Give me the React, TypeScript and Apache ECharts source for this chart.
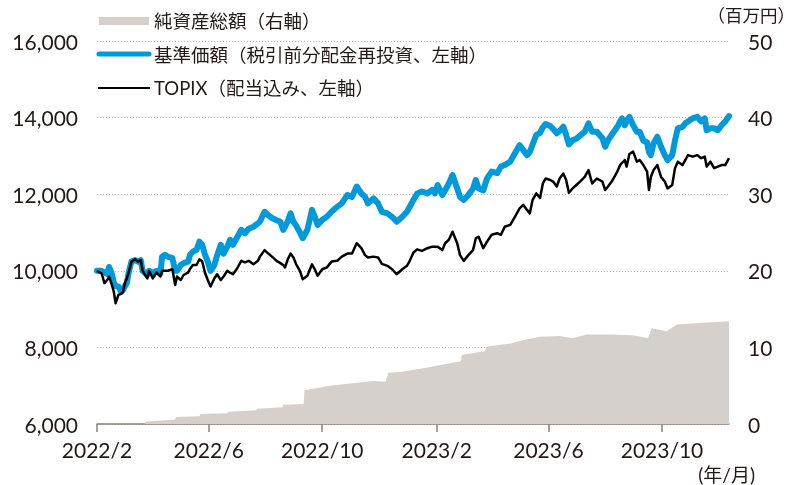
import React, { useEffect, useRef } from "react";
import * as echarts from "echarts";

// 日付（基準価額・TOPIX共通）
const lineDates = [
  "2022-02-01","2022-02-06","2022-02-09","2022-02-12","2022-02-14","2022-02-17","2022-02-19","2022-02-21","2022-02-24","2022-02-27",
  "2022-03-01","2022-03-03","2022-03-05","2022-03-07","2022-03-10","2022-03-14","2022-03-17","2022-03-20","2022-03-22","2022-03-27",
  "2022-03-29","2022-04-02","2022-04-06","2022-04-10","2022-04-12","2022-04-15","2022-04-18","2022-04-23","2022-04-26","2022-04-28",
  "2022-05-02","2022-05-05","2022-05-10","2022-05-12","2022-05-15","2022-05-19","2022-05-22","2022-05-25","2022-05-28","2022-05-31",
  "2022-06-03","2022-06-07","2022-06-10","2022-06-14","2022-06-17","2022-06-21","2022-06-24","2022-06-27","2022-07-01","2022-07-06",
  "2022-07-10","2022-07-14","2022-07-19","2022-07-24","2022-07-26","2022-07-31","2022-08-04","2022-08-08","2022-08-13","2022-08-17",
  "2022-08-20","2022-08-22","2022-08-25","2022-08-28","2022-08-31","2022-09-03","2022-09-07","2022-09-10","2022-09-15","2022-09-20",
  "2022-09-23","2022-09-26","2022-10-01","2022-10-06","2022-10-11","2022-10-17","2022-10-22","2022-10-28","2022-11-02","2022-11-07",
  "2022-11-12","2022-11-16","2022-11-19","2022-11-25","2022-11-30","2022-12-04","2022-12-10","2022-12-15","2022-12-20","2022-12-26",
  "2022-12-31","2023-01-03","2023-01-07","2023-01-11","2023-01-16","2023-01-22","2023-01-27","2023-01-30","2023-02-02","2023-02-07",
  "2023-02-10","2023-02-14","2023-02-18","2023-02-23","2023-02-26","2023-03-02","2023-03-07","2023-03-12","2023-03-15","2023-03-18",
  "2023-03-23","2023-03-27","2023-04-01","2023-04-07","2023-04-11","2023-04-15","2023-04-21","2023-04-26","2023-05-01","2023-05-05",
  "2023-05-09","2023-05-12","2023-05-15","2023-05-19","2023-05-23","2023-05-26","2023-05-29","2023-06-03","2023-06-06","2023-06-10",
  "2023-06-13","2023-06-17","2023-06-20","2023-06-23","2023-06-27","2023-07-01","2023-07-05","2023-07-10","2023-07-14","2023-07-18",
  "2023-07-23","2023-07-29","2023-08-01","2023-08-04","2023-08-08","2023-08-14","2023-08-17","2023-08-19","2023-08-22","2023-08-24",
  "2023-08-27","2023-08-31","2023-09-04","2023-09-07","2023-09-11","2023-09-15","2023-09-17","2023-09-19","2023-09-22","2023-09-26",
  "2023-09-30","2023-10-04","2023-10-07","2023-10-12","2023-10-15","2023-10-18","2023-10-23","2023-10-26","2023-10-29","2023-11-03",
  "2023-11-08","2023-11-12","2023-11-16","2023-11-18","2023-11-22","2023-11-26","2023-11-30","2023-12-04","2023-12-08","2023-12-12"
];

// 基準価額（税引前分配金再投資）
const navValues = [
  10000,10000,9960,9920,10100,9920,9700,9600,9590,9450,
  9500,9600,9680,9950,10240,10280,10240,10280,10000,9890,
  10000,9940,10000,9920,10370,10420,10370,10330,10000,10000,
  10150,10200,10240,10420,10500,10550,10760,10680,10420,10240,
  10000,10150,10400,10680,10450,10630,10810,10680,10850,11070,
  10980,11100,11150,11240,11280,11540,11450,11380,11320,11280,
  11070,11150,11300,11500,11280,11180,11000,10850,11070,11590,
  11410,11200,11330,11410,11540,11670,11760,11980,11930,12200,
  12020,11930,11760,11890,11760,11540,11500,11410,11280,11410,
  11540,11670,11850,12020,12070,12020,12110,12020,12240,11980,
  12100,12280,12500,12150,11930,11850,11980,12150,12370,12150,
  12100,12410,12590,12550,12720,12760,12850,13070,13280,13150,
  13020,13100,13300,13550,13600,13750,13830,13780,13700,13590,
  13650,13760,13550,13300,13410,13450,13530,13630,13850,13630,
  13630,13460,13240,13410,13550,13760,13900,13980,13800,13900,
  14020,13800,13630,13630,13400,13350,13100,13020,13330,13500,
  13240,13020,12890,13020,13410,13720,13760,13850,13900,13980,
  14020,13900,13980,13670,13720,13720,13670,13800,13900,14040
];

// TOPIX（配当込み）
const topixValues = [
  10000,9930,9680,9760,9850,9630,9460,9150,9370,9400,
  9450,9680,9800,9950,10240,10300,10240,10280,10000,9800,
  10000,9800,9960,9850,10000,10000,10000,10040,9630,9850,
  9760,9890,9960,10050,10150,10150,10300,10250,9950,9760,
  9590,9800,9910,9760,9850,10000,9950,9910,10040,10260,
  10220,10260,10170,10260,10370,10540,10450,10370,10260,10200,
  10150,10090,10300,10450,10350,10170,10000,9780,9870,10170,
  10040,9870,10040,10090,10240,10260,10370,10450,10450,10720,
  10590,10410,10350,10370,10350,10180,10130,10040,9910,10040,
  10130,10260,10480,10560,10520,10590,10630,10630,10630,10540,
  10720,10810,11020,10720,10410,10260,10410,10540,10850,10890,
  10590,10760,10940,10980,10940,11150,11200,11410,11630,11720,
  11590,11500,11850,12020,11900,12280,12410,12370,12330,12200,
  12410,12540,12370,12040,12150,12240,12330,12450,12630,12280,
  12410,12330,12110,12200,12330,12590,12760,12820,12890,12720,
  13050,13110,12850,12890,12760,12590,12110,12450,12630,12760,
  12450,12330,12150,12240,12680,12850,12760,12890,13020,12980,
  13020,12940,12980,12720,12850,12680,12720,12760,12760,12940
];

// 純資産総額（百万円）
const assetDates = [
  "2022-02-01","2022-03-24","2022-03-25","2022-04-26","2022-04-27","2022-05-22","2022-05-23","2022-06-21","2022-06-22","2022-07-22",
  "2022-07-23","2022-08-19","2022-08-20","2022-09-11","2022-09-12","2022-10-09","2022-10-31","2022-11-25","2022-12-08","2022-12-11",
  "2022-12-24","2023-01-14","2023-01-28","2023-02-18","2023-02-27","2023-02-28","2023-03-19","2023-03-25","2023-03-26","2023-04-21",
  "2023-05-07","2023-05-23","2023-06-13","2023-06-27","2023-07-12","2023-08-09","2023-08-31","2023-09-16","2023-09-20","2023-10-06",
  "2023-10-17","2023-11-11","2023-12-12"
];
const assetValues = [
  0,0,0.3,0.6,0.9,1.0,1.3,1.4,1.6,1.8,
  2.0,2.2,2.5,2.6,4.4,5.0,5.3,5.6,5.5,6.7,
  6.8,7.2,7.5,8.0,8.2,9.0,9.4,9.5,10.1,10.5,
  11.0,11.4,11.5,11.2,11.7,11.7,11.6,11.2,12.5,12.1,
  13.0,13.2,13.4
];

const tickDates = ["2022-02-01", "2022-06-01", "2022-10-01", "2023-02-01", "2023-06-01", "2023-10-01"];
const leftTicks = { min: 6000, max: 16000, interval: 2000 };
const rightTicks = { min: 0, max: 50, interval: 10 };

const legendNames = ["純資産総額（右軸）", "基準価額（税引前分配金再投資、左軸）", "TOPIX（配当込み、左軸）"];
const rightUnit = "（百万円）";
const xUnit = "(年/月)";

const ts = (s: string) => {
  const [y, m, d] = s.split("-").map(Number);
  return Date.UTC(y, m - 1, d);
};

const FONT = "Lato, 'Noto Sans CJK JP', sans-serif";
const TEXT = "#231815";
const BLUE = "#0099d9";
const GRAY = "#d5d0cb";

export default function App() {
  const ref = useRef<HTMLDivElement>(null);
  useEffect(() => {
    if (!ref.current) return;
    const chart = echarts.init(ref.current, undefined, { renderer: "svg" });
    const navData = lineDates.map((d, i) => [ts(d), navValues[i]]);
    const topixData = lineDates.map((d, i) => [ts(d), topixValues[i]]);
    const assetData = assetDates.map((d, i) => [ts(d), assetValues[i]]);
    const tickValues = tickDates.map(ts);

    chart.setOption({
      animation: false,
      textStyle: { fontFamily: FONT },
      grid: { left: 97, right: 68, top: 41, bottom: 61, containLabel: false, outerBoundsMode: "none" },
      xAxis: {
        type: "value",
        min: ts(lineDates[0]),
        max: ts(lineDates[lineDates.length - 1]),
        axisLine: { show: true, lineStyle: { color: "#8a7e78", width: 1.5 } },
        axisTick: { show: true, length: 8, lineStyle: { color: "#8a7e78", width: 1.5 }, customValues: tickValues },
        axisLabel: {
          customValues: tickValues,
          fontSize: 21,
          color: TEXT,
          fontFamily: FONT,
          margin: 15,
          formatter: (v: number) => {
            const d = new Date(v);
            return `${d.getUTCFullYear()}/${d.getUTCMonth() + 1}`;
          },
        },
        splitLine: { show: false },
      },
      yAxis: [
        {
          type: "value",
          ...leftTicks,
          axisLine: { show: false },
          axisTick: { show: false },
          axisLabel: {
            fontSize: 21,
            color: TEXT,
            fontFamily: FONT,
            margin: 19,
            formatter: (v: number) => v.toLocaleString("en-US"),
          },
          splitLine: { show: true, lineStyle: { color: "#b5b5b5", type: [1, 2], width: 1 } },
        },
        {
          type: "value",
          ...rightTicks,
          axisLine: { show: false },
          axisTick: { show: false },
          axisLabel: { fontSize: 21, color: TEXT, fontFamily: FONT, margin: 19 },
          splitLine: { show: false },
        },
      ],
      series: [
        {
          name: legendNames[0],
          type: "line",
          yAxisIndex: 1,
          data: assetData,
          symbol: "none",
          lineStyle: { width: 0 },
          areaStyle: { color: GRAY, opacity: 1 },
          z: 1,
        },
        {
          name: legendNames[1],
          type: "line",
          data: navData,
          symbol: "none",
          lineStyle: { color: BLUE, width: 6, join: "round", cap: "round" },
          z: 2,
        },
        {
          name: legendNames[2],
          type: "line",
          data: topixData,
          symbol: "none",
          lineStyle: { color: "#000000", width: 2.5, join: "round" },
          z: 3,
        },
      ],
      graphic: [
        {
          type: "group",
          z: 100,
          children: [
            { type: "rect", shape: { x: 90, y: 0, width: 408, height: 100 }, style: { fill: "#ffffff" } },
            { type: "rect", shape: { x: 99, y: 17, width: 50, height: 8 }, style: { fill: GRAY } },
            { type: "line", shape: { x1: 99, y1: 54, x2: 149, y2: 54 }, style: { stroke: BLUE, lineWidth: 5, lineCap: "round" } },
            { type: "line", shape: { x1: 98, y1: 88, x2: 150, y2: 88 }, style: { stroke: "#000000", lineWidth: 2 } },
            { type: "text", x: 154, y: 21, style: { text: legendNames[0], font: `18.5px ${FONT}`, fill: TEXT, verticalAlign: "middle" } },
            { type: "text", x: 154, y: 55, style: { text: legendNames[1], font: `18.5px ${FONT}`, fill: TEXT, verticalAlign: "middle" } },
            { type: "text", x: 154, y: 88, style: { text: legendNames[2], font: `18.5px ${FONT}`, fill: TEXT, verticalAlign: "middle" } },
            { type: "text", x: 795, y: 15, style: { text: rightUnit, font: `17.5px ${FONT}`, fill: TEXT, align: "right", verticalAlign: "middle" } },
            { type: "text", x: 755, y: 474, style: { text: xUnit, font: `19px ${FONT}`, fill: TEXT, align: "right", verticalAlign: "middle" } },
          ],
        },
      ],
    });
    return () => chart.dispose();
  }, []);
  return <div ref={ref} style={{ position: "fixed", left: 0, top: 0, width: 797, height: 485 }} />;
}
